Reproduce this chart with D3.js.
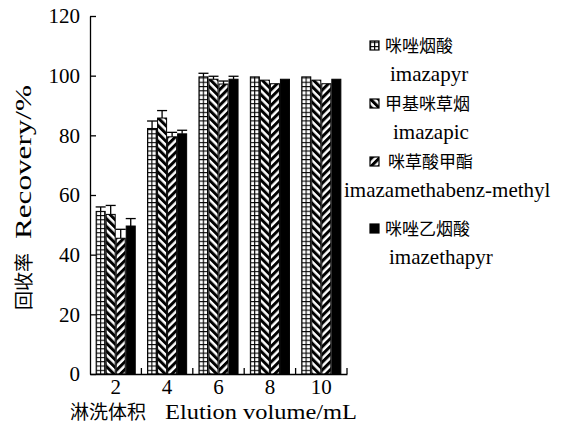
<!DOCTYPE html>
<html>
<head>
<meta charset="utf-8">
<script src="https://cdn.jsdelivr.net/npm/d3@7"></script>
<style>
  body { margin: 0; background: #fff; }
  svg text { fill: #000; }
</style>
</head>
<body>
<svg id="chart" width="570" height="427"></svg>
<script>
// elution volume (mL)
var volumes = ["2", "4", "6", "8", "10"]
var seriesKeys = ["imazapyr", "imazapic", "imazamethabenz", "imazethapyr"]

var imazapyr = [54.5, 82.3, 99.6, 99.6, 99.6]
var imazapic = [53.5, 85.8, 98.8, 98.5, 98.5]
var imazamethabenz = [45.5, 79.5, 97.2, 97.3, 97.3]
var imazethapyr = [49.6, 80.5, 98.8, 98.8, 98.8]

var imazapyrErr = [1.5, 2.5, 1.2, 0, 0]
var imazapicErr = [3, 2.5, 1, 0, 0]
var imazamethabenzErr = [3, 1.5, 1, 0, 0]
var imazethapyrErr = [2.5, 1.2, 1, 0, 0]

var yTicks = [0, 20, 40, 60, 80, 100, 120]

var legendCn = ["咪唑烟酸", "甲基咪草烟", "咪草酸甲酯", "咪唑乙烟酸"]
var legendEn = ["imazapyr", "imazapic", "imazamethabenz-methyl", "imazethapyr"]

var values = { imazapyr: imazapyr, imazapic: imazapic, imazamethabenz: imazamethabenz, imazethapyr: imazethapyr }
var errors = { imazapyr: imazapyrErr, imazapic: imazapicErr, imazamethabenz: imazamethabenzErr, imazethapyr: imazethapyrErr }

var dimensions = {
  width: 570,
  height: 427,
  margin: { top: 16, bottom: 58, left: 90, right: 223 }
}

var serif = "'Liberation Serif', 'Times New Roman', serif"
var cjk = "'Noto Sans CJK SC', sans-serif"

var svg = d3.select("#chart")

// fill patterns
var defs = svg.append("defs")

var grid = defs.append("pattern")
  .attr("id", "grid")
  .attr("patternUnits", "userSpaceOnUse")
  .attr("width", 4.3).attr("height", 4.3)
grid.append("rect").attr("width", 4.3).attr("height", 4.3).attr("fill", "#fff")
grid.append("path").attr("d", "M0,0.5H4.3M0.5,0V4.3").attr("stroke", "#000").attr("stroke-width", 1.2)

function stripes(id, angle) {
  var p = defs.append("pattern")
    .attr("id", id)
    .attr("patternUnits", "userSpaceOnUse")
    .attr("width", 5.5).attr("height", 5.5)
    .attr("patternTransform", "rotate(" + angle + ")")
  p.append("rect").attr("width", 5.5).attr("height", 5.5).attr("fill", "#fff")
  p.append("rect").attr("width", 3).attr("height", 5.5).attr("fill", "#000")
}
stripes("back", -45)
stripes("fwd", 45)

var fills = { imazapyr: "url(#grid)", imazapic: "url(#back)", imazamethabenz: "url(#fwd)", imazethapyr: "#000" }

var xScale = d3.scaleBand()
  .domain(volumes)
  .range([dimensions.margin.left, dimensions.width - dimensions.margin.right])
  .paddingInner(0.22)
  .paddingOuter(0.11)

var inner = d3.scaleBand()
  .domain(seriesKeys)
  .range([0, xScale.bandwidth()])

var yScale = d3.scaleLinear()
  .domain([0, 120])
  .range([dimensions.height - dimensions.margin.bottom + 5, dimensions.margin.top])

var groups = svg.append("g")
  .selectAll("g")
  .data(volumes)
  .enter()
  .append("g")
  .attr("transform", d => `translate(${xScale(d)},0)`)

groups.selectAll("rect")
  .data((d, i) => seriesKeys.map(k => ({ key: k, v: values[k][i], e: errors[k][i] })))
  .enter()
  .append("rect")
  .attr("x", d => inner(d.key) + 0.5)
  .attr("y", d => yScale(d.v))
  .attr("width", inner.bandwidth() - 1)
  .attr("height", d => yScale(0) - yScale(d.v))
  .attr("fill", d => fills[d.key])
  .attr("stroke", "#000")
  .attr("stroke-width", 1)

// error bars (upper half only, as in the figure)
var err = groups.selectAll("g.err")
  .data((d, i) => seriesKeys.map(k => ({ key: k, v: values[k][i], e: errors[k][i] })).filter(d => d.e > 0))
  .enter()
  .append("g")
  .attr("class", "err")
  .attr("stroke", "#000")
  .attr("stroke-width", 1.3)

err.append("line")
  .attr("x1", d => inner(d.key) + inner.bandwidth() / 2)
  .attr("x2", d => inner(d.key) + inner.bandwidth() / 2)
  .attr("y1", d => yScale(d.v))
  .attr("y2", d => yScale(d.v + d.e))

err.append("line")
  .attr("x1", d => inner(d.key))
  .attr("x2", d => inner(d.key) + inner.bandwidth())
  .attr("y1", d => yScale(d.v + d.e))
  .attr("y2", d => yScale(d.v + d.e))

// axes
var yAxisGen = d3.axisLeft(yScale)
  .tickValues(yTicks)
  .tickSize(-6)
  .tickSizeOuter(0)
  .tickPadding(10)
var yAxis = svg.append("g")
  .attr("transform", `translate(${dimensions.margin.left},0)`)
  .call(yAxisGen)
yAxis.selectAll("text").style("font-family", serif).style("font-size", "21px")

var xAxisGen = d3.axisBottom(xScale).tickSize(0).tickSizeOuter(0).tickPadding(5)
var xAxis = svg.append("g")
  .attr("transform", `translate(0,${yScale(0)})`)
  .call(xAxisGen)
xAxis.selectAll("text").style("font-family", serif).style("font-size", "21px")
svg.selectAll(".domain").attr("stroke-width", 1.3)
svg.selectAll(".tick line").attr("stroke-width", 1.3)

// inward tick marks between the groups
var edge = xScale.step() * xScale.paddingOuter()
xAxis.selectAll(".sep")
  .data(volumes)
  .enter()
  .append("line")
  .attr("x1", d => xScale(d) + xScale.bandwidth() + edge)
  .attr("x2", d => xScale(d) + xScale.bandwidth() + edge)
  .attr("y1", 0)
  .attr("y2", -6)
  .attr("stroke", "#000")
  .attr("stroke-width", 1.3)

// axis titles
svg.append("text")
  .attr("x", 70)
  .attr("y", 419)
  .style("font-family", cjk)
  .style("font-size", "19px")
  .text("淋洗体积")
svg.append("text")
  .attr("x", 165)
  .attr("y", 419)
  .attr("textLength", 192)
  .attr("lengthAdjust", "spacingAndGlyphs")
  .style("font-family", serif)
  .style("font-size", "22px")
  .text("Elution volume/mL")

var yTitle = svg.append("g").attr("transform", "translate(31,0) rotate(-90)")
yTitle.append("text")
  .attr("x", -310)
  .style("font-family", cjk)
  .style("font-size", "19px")
  .text("回收率")
yTitle.append("text")
  .attr("x", -239)
  .attr("textLength", 154)
  .attr("lengthAdjust", "spacingAndGlyphs")
  .style("font-family", serif)
  .style("font-size", "23px")
  .text("Recovery/%")

// legend
var legendY = [46, 104, 162, 229]
var legendEnX = [390, 393, 344, 389]
var legendKeys = ["imazapyr", "imazapic", "imazamethabenz", "imazethapyr"]
var legend = svg.append("g")
  .selectAll("g")
  .data(legendKeys)
  .enter()
  .append("g")
  .attr("transform", (d, i) => `translate(0,${legendY[i]})`)

legend.append("rect")
  .attr("x", 370).attr("y", -5)
  .attr("width", 9).attr("height", 9)
  .attr("fill", d => fills[d])
  .attr("stroke", "#000")
  .attr("stroke-width", 1.2)

legend.append("text")
  .attr("x", (d, i) => i === 2 ? 388 : 385)
  .attr("dy", "0.35em")
  .style("font-family", cjk)
  .style("font-size", "17px")
  .text((d, i) => legendCn[i])

legend.append("text")
  .attr("x", (d, i) => legendEnX[i])
  .attr("y", 28)
  .attr("dy", "0.35em")
  .style("font-family", serif)
  .style("font-size", "21px")
  .text((d, i) => legendEn[i])
</script>
</body>
</html>
